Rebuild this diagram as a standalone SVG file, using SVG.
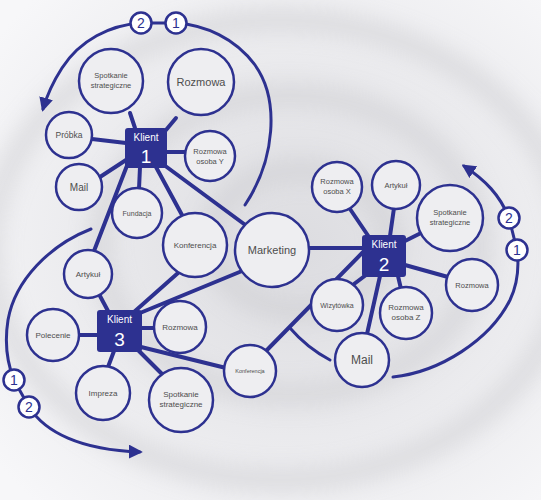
<svg xmlns="http://www.w3.org/2000/svg" width="541" height="500" viewBox="0 0 541 500">
<style>
.ln{stroke:#2d3190;stroke-width:4;stroke-linecap:round;fill:none}
.arc{stroke:#2d3190;stroke-width:3;fill:none;stroke-linecap:round}
.nd{fill:#eeeef1;stroke:#2d3190;stroke-width:2.5}
.box{fill:#2d3190}
.t{font-family:"Liberation Sans",Arial,sans-serif;fill:#4d4d4d;text-anchor:middle}
.kt{font-family:"Liberation Sans",Arial,sans-serif;fill:#fff;text-anchor:middle}
.num{fill:#fff;stroke:#2d3190;stroke-width:2.5}
.nt{font-family:"Liberation Sans",Arial,sans-serif;fill:#2d3190;text-anchor:middle;font-size:14px}
</style>
<defs>
<marker id="ah" viewBox="0 0 10 10" refX="8" refY="5" markerWidth="14" markerHeight="14" markerUnits="userSpaceOnUse" orient="auto">
<path d="M0,0 L10,5 L0,10 Z" fill="#2d3190"/>
</marker>
<radialGradient id="g" cx="0.55" cy="0.5" r="0.7">
<stop offset="0" stop-color="#dcdce0"/>
<stop offset="0.5" stop-color="#e9e9ec"/>
<stop offset="1" stop-color="#f7f7f9"/>
</radialGradient>
<filter id="bl" x="-20%" y="-20%" width="140%" height="140%"><feGaussianBlur stdDeviation="12"/></filter>
</defs>
<rect width="541" height="500" fill="url(#g)"/>
<g filter="url(#bl)" fill="none" stroke="#c9c9ce" stroke-width="14" opacity="0.8">
<ellipse cx="300" cy="240" rx="90" ry="70"/>
<ellipse cx="290" cy="245" rx="190" ry="150"/>
<ellipse cx="280" cy="250" rx="290" ry="230"/>
</g>
<g id="connectors">
<line class="ln" x1="130" y1="113" x2="135" y2="128"/>
<line class="ln" x1="176" y1="118" x2="166" y2="130"/>
<line class="ln" x1="92" y1="139" x2="126" y2="143"/>
<line class="ln" x1="166" y1="152" x2="186" y2="152"/>
<line class="ln" x1="100" y1="177" x2="126" y2="160"/>
<line class="ln" x1="140" y1="167" x2="139" y2="189"/>
<line class="ln" x1="156" y1="167" x2="182" y2="215"/>
<line class="ln" x1="164" y1="165" x2="244" y2="224"/>
<line class="ln" x1="128" y1="163" x2="94" y2="251"/>
<line class="ln" x1="100" y1="296" x2="108" y2="311"/>
<line class="ln" x1="134" y1="312" x2="178" y2="273"/>
<line class="ln" x1="140" y1="313" x2="242" y2="271"/>
<line class="ln" x1="141" y1="328" x2="155" y2="328"/>
<line class="ln" x1="79" y1="335" x2="98" y2="335"/>
<line class="ln" x1="114" y1="351" x2="108" y2="367"/>
<line class="ln" x1="138" y1="350" x2="162" y2="374"/>
<line class="ln" x1="141" y1="347" x2="226" y2="368"/>
<line class="ln" x1="308" y1="248" x2="363" y2="248"/>
<line class="ln" x1="350" y1="209" x2="369" y2="237"/>
<line class="ln" x1="394" y1="208" x2="390" y2="236"/>
<line class="ln" x1="405" y1="241" x2="421" y2="233"/>
<line class="ln" x1="405" y1="265" x2="448" y2="277"/>
<line class="ln" x1="398" y1="276" x2="401" y2="289"/>
<line class="ln" x1="366" y1="275" x2="354" y2="284"/>
<line class="ln" x1="380" y1="276" x2="367" y2="334"/>
<line class="ln" x1="266" y1="351" x2="366" y2="249"/>
<path class="arc" d="M245,205 C275,160 280,100 255,65 C235,38 205,25 176,23 L141,23 C110,25 80,40 62,68 C53,82 47,95 43,109" marker-end="url(#ah)"/>
<path class="arc" d="M91,229 C50,245 15,280 8,320 C4,345 8,365 14,380 L29,407 C45,432 80,450 140,452" marker-end="url(#ah)"/>
<path class="arc" d="M393,377 C440,372 490,340 510,300 C518,283 519,265 517,250 L509,218 C500,195 485,180 464,166" marker-end="url(#ah)"/>
<path class="arc" d="M290,328 C302,342 315,352 330,360"/>
</g>
<g id="n_k1_spotkanie"><circle class="nd" cx="111" cy="81" r="32"/><text class="t" x="111" y="78" font-size="7.5">Spotkanie</text><text class="t" x="111" y="88" font-size="7.5">strategiczne</text></g>
<g id="n_k1_rozmowa"><circle class="nd" cx="201" cy="82" r="33"/><text class="t" x="201" y="86" font-size="11">Rozmowa</text></g>
<g id="n_k1_probka"><circle class="nd" cx="69" cy="135" r="23"/><text class="t" x="69" y="138" font-size="8.5">Próbka</text></g>
<g id="n_k1_rozY"><circle class="nd" cx="210" cy="156" r="25"/><text class="t" x="210" y="154" font-size="7.5">Rozmowa</text><text class="t" x="210" y="164" font-size="7.5">osoba Y</text></g>
<g id="n_k1_mail"><circle class="nd" cx="79" cy="187" r="23"/><text class="t" x="79" y="191" font-size="10">Mail</text></g>
<g id="n_fundacja"><circle class="nd" cx="137" cy="213" r="25"/><text class="t" x="137" y="216" font-size="7">Fundacja</text></g>
<g id="n_konferencja"><circle class="nd" cx="195" cy="245" r="32"/><text class="t" x="195" y="248" font-size="8">Konferencja</text></g>
<g id="n_marketing"><circle class="nd" cx="272" cy="250" r="37"/><text class="t" x="272" y="254" font-size="11">Marketing</text></g>
<g id="n_k3_artykul"><circle class="nd" cx="88" cy="274" r="24"/><text class="t" x="88" y="277" font-size="8">Artykuł</text></g>
<g id="n_polecenie"><circle class="nd" cx="53" cy="335" r="26"/><text class="t" x="53" y="338" font-size="8">Polecenie</text></g>
<g id="n_k3_rozmowa"><circle class="nd" cx="180" cy="327" r="26"/><text class="t" x="180" y="330" font-size="8">Rozmowa</text></g>
<g id="n_impreza"><circle class="nd" cx="103" cy="393" r="27"/><text class="t" x="103" y="396" font-size="8">Impreza</text></g>
<g id="n_k3_spotkanie"><circle class="nd" cx="181" cy="400" r="32"/><text class="t" x="181" y="397" font-size="8">Spotkanie</text><text class="t" x="181" y="407" font-size="8">strategiczne</text></g>
<g id="n_konf_small"><circle class="nd" cx="250" cy="371" r="26"/><text class="t" x="250" y="373" font-size="5.5">Konferencja</text></g>
<g id="n_rozX"><circle class="nd" cx="337" cy="187" r="25"/><text class="t" x="337" y="184" font-size="7.5">Rozmowa</text><text class="t" x="337" y="194" font-size="7.5">osoba X</text></g>
<g id="n_k2_artykul"><circle class="nd" cx="396" cy="185" r="24"/><text class="t" x="396" y="188" font-size="7.5">Artykuł</text></g>
<g id="n_k2_spotkanie"><circle class="nd" cx="450" cy="218" r="33"/><text class="t" x="450" y="215" font-size="7.5">Spotkanie</text><text class="t" x="450" y="225" font-size="7.5">strategiczne</text></g>
<g id="n_k2_rozmowa"><circle class="nd" cx="472" cy="285" r="26"/><text class="t" x="472" y="288" font-size="7.5">Rozmowa</text></g>
<g id="n_rozZ"><circle class="nd" cx="406" cy="313" r="26"/><text class="t" x="406" y="310" font-size="8">Rozmowa</text><text class="t" x="406" y="320" font-size="8">osoba Z</text></g>
<g id="n_wizytowka"><circle class="nd" cx="337" cy="305" r="26"/><text class="t" x="337" y="308" font-size="7">Wizytówka</text></g>
<g id="n_k2_mail"><circle class="nd" cx="362" cy="360" r="27"/><text class="t" x="362" y="364" font-size="12">Mail</text></g>
<g id="n_klient1"><rect class="box" x="125" y="128" width="42" height="40" rx="3"/><text class="kt" x="146" y="141" font-size="10">Klient</text><text class="kt" x="146" y="163" font-size="19">1</text></g>
<g id="n_klient2"><rect class="box" x="362" y="235" width="44" height="42" rx="3"/><text class="kt" x="384" y="248" font-size="10">Klient</text><text class="kt" x="384" y="271" font-size="19">2</text></g>
<g id="n_klient3"><rect class="box" x="97" y="310" width="45" height="42" rx="3"/><text class="kt" x="119.5" y="323" font-size="10">Klient</text><text class="kt" x="119.5" y="346" font-size="19">3</text></g>
<g id="n_num_top"><circle class="num" cx="141" cy="23" r="10.5"/><text class="nt" x="141" y="28">2</text><circle class="num" cx="176" cy="23" r="10.5"/><text class="nt" x="176" y="28">1</text></g>
<g id="n_num_left"><circle class="num" cx="14" cy="380" r="10.5"/><text class="nt" x="14" y="385">1</text><circle class="num" cx="29" cy="407" r="10.5"/><text class="nt" x="29" y="412">2</text></g>
<g id="n_num_right"><circle class="num" cx="509" cy="218" r="10.5"/><text class="nt" x="509" y="223">2</text><circle class="num" cx="517" cy="250" r="10.5"/><text class="nt" x="517" y="255">1</text></g>
</svg>
